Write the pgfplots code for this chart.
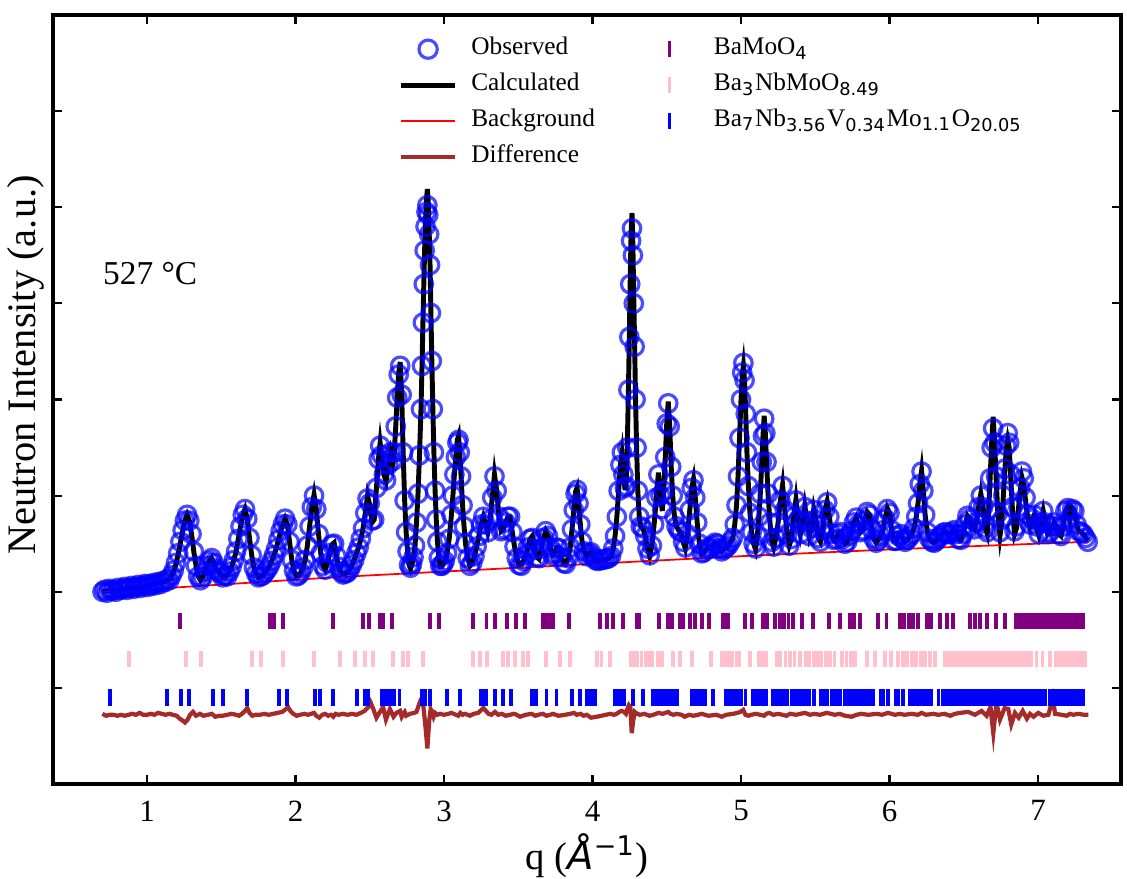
\documentclass[border=0pt]{standalone}
\usepackage{fontspec}
\setmainfont{Liberation Serif}
\newfontfamily\dv{DejaVu Sans}
\usepackage{pgfplots}
\usepackage{pgfplotstable}
\pgfplotsset{compat=1.18}
\definecolor{obsblue}{RGB}{0,0,255}
\definecolor{diffbrown}{RGB}{165,42,42}
\definecolor{tickpurple}{RGB}{128,0,128}
\definecolor{tickpink}{RGB}{255,192,203}
\definecolor{tickblue}{RGB}{0,0,255}

% observed and calculated profile
\pgfplotstableread{
q obs calc
0.700 0.00 0.00
0.715 0.02 0.005
0.730 -0.01 0.01
0.745 0.03 0.01
0.760 0.01 0.015
0.775 0.02 0.015
0.790 0.00 0.02
0.805 0.04 0.02
0.820 0.02 0.025
0.835 0.03 0.03
0.850 0.05 0.03
0.865 0.02 0.035
0.880 0.04 0.035
0.895 0.06 0.04
0.910 0.03 0.04
0.925 0.05 0.045
0.940 0.07 0.05
0.955 0.04 0.05
0.970 0.06 0.055
0.985 0.08 0.06
1.000 0.05 0.06
1.015 0.08 0.07
1.030 0.06 0.075
1.045 0.09 0.08
1.060 0.07 0.085
1.075 0.10 0.09
1.090 0.08 0.095
1.105 0.11 0.10
1.120 0.10 0.11
1.135 0.13 0.12
1.150 0.12 0.13
1.165 0.17 0.16
1.180 0.22 0.21
1.195 0.30 0.29
1.210 0.40 0.39
1.225 0.52 0.51
1.240 0.64 0.63
1.255 0.74 0.74
1.270 0.80 0.80
1.285 0.74 0.74
1.300 0.60 0.60
1.315 0.42 0.42
1.330 0.27 0.27
1.345 0.16 0.16
1.360 0.12 0.12
1.375 0.15 0.15
1.390 0.21 0.21
1.405 0.27 0.27
1.420 0.32 0.32
1.435 0.35 0.35
1.450 0.30 0.30
1.465 0.24 0.24
1.480 0.21 0.21
1.495 0.19 0.19
1.510 0.15 0.15
1.525 0.17 0.16
1.540 0.16 0.17
1.555 0.21 0.21
1.570 0.26 0.26
1.585 0.33 0.33
1.600 0.42 0.42
1.615 0.55 0.55
1.630 0.68 0.68
1.645 0.80 0.80
1.660 0.86 0.86
1.675 0.76 0.76
1.690 0.56 0.56
1.705 0.38 0.38
1.720 0.25 0.25
1.735 0.19 0.19
1.750 0.15 0.15
1.765 0.16 0.16
1.780 0.17 0.17
1.795 0.20 0.20
1.810 0.23 0.23
1.825 0.27 0.27
1.840 0.32 0.32
1.855 0.38 0.38
1.870 0.45 0.45
1.885 0.54 0.54
1.900 0.63 0.63
1.915 0.70 0.70
1.930 0.76 0.76
1.945 0.70 0.70
1.960 0.52 0.52
1.975 0.33 0.33
1.990 0.22 0.22
2.005 0.16 0.16
2.020 0.17 0.17
2.035 0.20 0.20
2.050 0.25 0.25
2.065 0.33 0.33
2.080 0.48 0.48
2.095 0.68 0.68
2.110 0.88 0.88
2.125 1.00 1.01
2.140 0.86 0.86
2.155 0.60 0.60
2.170 0.40 0.40
2.185 0.27 0.27
2.200 0.23 0.23
2.215 0.30 0.30
2.230 0.40 0.40
2.245 0.49 0.49
2.260 0.50 0.51
2.275 0.37 0.37
2.290 0.26 0.26
2.305 0.21 0.21
2.320 0.18 0.18
2.335 0.19 0.19
2.350 0.20 0.20
2.365 0.23 0.23
2.380 0.28 0.28
2.395 0.33 0.33
2.410 0.40 0.40
2.425 0.46 0.46
2.440 0.55 0.55
2.455 0.66 0.66
2.470 0.82 0.82
2.485 0.97 1.00
2.500 0.92 0.90
2.515 0.74 0.72
2.530 0.75 0.75
2.545 1.08 1.08
2.560 1.38 1.40
2.570 1.52 1.55
2.580 1.42 1.42
2.595 1.22 1.22
2.610 1.16 1.15
2.625 1.32 1.32
2.640 1.45 1.45
2.655 1.36 1.34
2.665 1.45 1.45
2.675 1.72 1.72
2.685 2.02 2.02
2.695 2.26 2.28
2.705 2.35 2.39
2.715 2.05 2.05
2.725 1.45 1.45
2.735 0.95 0.95
2.745 0.62 0.62
2.755 0.42 0.42
2.765 0.28 0.28
2.775 0.25 0.24
2.785 0.29 0.29
2.795 0.36 0.36
2.805 0.48 0.48
2.815 0.72 0.72
2.825 1.02 1.02
2.835 1.42 1.42
2.845 1.90 1.90
2.852 2.35 2.35
2.858 2.80 2.80
2.864 3.20 3.20
2.870 3.55 3.58
2.876 3.80 3.88
2.882 3.95 4.08
2.888 4.02 4.19
2.894 3.92 4.05
2.900 3.72 3.75
2.906 3.40 3.40
2.912 2.90 2.90
2.918 2.40 2.40
2.925 1.90 1.90
2.932 1.45 1.45
2.940 1.05 1.05
2.948 0.75 0.75
2.956 0.52 0.52
2.965 0.35 0.35
2.975 0.27 0.26
2.985 0.27 0.26
2.995 0.29 0.29
3.005 0.32 0.32
3.020 0.40 0.40
3.035 0.55 0.55
3.050 0.80 0.80
3.060 1.00 1.00
3.070 1.22 1.22
3.080 1.40 1.42
3.090 1.55 1.58
3.098 1.58 1.62
3.106 1.45 1.45
3.115 1.20 1.20
3.125 0.90 0.90
3.135 0.68 0.68
3.145 0.50 0.50
3.160 0.35 0.35
3.175 0.27 0.27
3.190 0.30 0.30
3.205 0.37 0.37
3.220 0.47 0.47
3.235 0.58 0.58
3.250 0.70 0.70
3.265 0.78 0.78
3.280 0.70 0.70
3.295 0.62 0.62
3.310 0.75 0.75
3.325 0.98 0.98
3.340 1.20 1.22
3.355 1.05 1.05
3.370 0.78 0.78
3.385 0.63 0.63
3.400 0.65 0.65
3.415 0.72 0.72
3.430 0.78 0.78
3.445 0.78 0.78
3.460 0.62 0.62
3.475 0.47 0.47
3.490 0.35 0.35
3.505 0.28 0.28
3.520 0.27 0.27
3.535 0.32 0.32
3.550 0.38 0.38
3.565 0.46 0.46
3.580 0.55 0.55
3.595 0.56 0.58
3.610 0.44 0.44
3.625 0.36 0.36
3.640 0.35 0.34
3.655 0.45 0.45
3.670 0.56 0.56
3.685 0.63 0.63
3.700 0.58 0.58
3.715 0.46 0.46
3.730 0.38 0.38
3.745 0.40 0.40
3.760 0.46 0.46
3.775 0.45 0.46
3.790 0.36 0.36
3.805 0.30 0.30
3.820 0.29 0.29
3.835 0.35 0.35
3.850 0.46 0.46
3.862 0.65 0.65
3.874 0.85 0.85
3.886 1.02 1.04
3.896 1.06 1.08
3.906 0.92 0.92
3.918 0.70 0.70
3.930 0.52 0.52
3.945 0.42 0.42
3.960 0.37 0.37
3.975 0.40 0.40
3.990 0.41 0.41
4.005 0.36 0.36
4.020 0.33 0.33
4.035 0.32 0.32
4.050 0.33 0.33
4.065 0.33 0.33
4.080 0.34 0.34
4.095 0.34 0.34
4.110 0.35 0.35
4.125 0.37 0.37
4.140 0.45 0.45
4.152 0.58 0.58
4.164 0.78 0.78
4.176 1.05 1.05
4.188 1.32 1.32
4.198 1.45 1.43
4.208 1.22 1.22
4.218 1.08 1.08
4.226 1.10 1.08
4.234 1.50 1.50
4.242 2.10 2.10
4.248 2.65 2.65
4.254 3.20 3.25
4.260 3.65 3.75
4.266 3.78 3.94
4.272 3.50 3.60
4.278 3.00 3.05
4.284 2.55 2.55
4.290 2.00 2.00
4.297 1.50 1.50
4.305 1.05 1.05
4.315 0.78 0.78
4.325 0.68 0.68
4.340 0.66 0.66
4.355 0.58 0.58
4.370 0.45 0.45
4.385 0.38 0.37
4.400 0.48 0.48
4.415 0.70 0.70
4.430 0.98 0.98
4.444 1.22 1.24
4.458 1.00 1.00
4.470 0.86 0.84
4.480 1.05 1.05
4.490 1.40 1.40
4.500 1.75 1.75
4.510 1.96 1.98
4.520 1.72 1.72
4.530 1.30 1.30
4.540 1.00 1.00
4.552 0.78 0.78
4.566 0.68 0.68
4.580 0.64 0.64
4.595 0.62 0.62
4.610 0.52 0.52
4.625 0.46 0.45
4.640 0.60 0.60
4.655 0.85 0.85
4.668 1.08 1.08
4.680 1.16 1.17
4.692 0.98 0.98
4.705 0.72 0.72
4.720 0.50 0.50
4.735 0.40 0.39
4.750 0.41 0.41
4.765 0.44 0.44
4.780 0.46 0.46
4.795 0.45 0.45
4.810 0.48 0.48
4.825 0.51 0.51
4.840 0.50 0.50
4.855 0.45 0.45
4.870 0.42 0.42
4.885 0.44 0.44
4.900 0.46 0.46
4.915 0.48 0.48
4.930 0.52 0.52
4.945 0.56 0.56
4.958 0.70 0.70
4.970 0.90 0.90
4.980 1.20 1.20
4.990 1.60 1.60
5.000 2.00 2.00
5.008 2.28 2.25
5.016 2.38 2.35
5.024 2.20 2.20
5.032 1.85 1.85
5.040 1.45 1.45
5.050 1.10 1.10
5.060 0.82 0.82
5.072 0.62 0.62
5.085 0.50 0.50
5.098 0.45 0.44
5.110 0.58 0.58
5.120 0.78 0.78
5.130 1.02 1.02
5.140 1.35 1.35
5.148 1.62 1.62
5.156 1.80 1.83
5.164 1.65 1.65
5.172 1.35 1.35
5.182 1.02 1.02
5.195 0.72 0.72
5.208 0.52 0.52
5.220 0.47 0.46
5.235 0.56 0.56
5.250 0.72 0.72
5.265 0.95 0.95
5.280 1.10 1.11
5.295 0.85 0.85
5.310 0.60 0.60
5.325 0.48 0.48
5.340 0.55 0.55
5.355 0.78 0.78
5.370 0.95 0.96
5.385 0.75 0.75
5.400 0.60 0.60
5.415 0.72 0.72
5.430 0.88 0.89
5.445 0.74 0.74
5.460 0.58 0.58
5.475 0.66 0.66
5.490 0.85 0.86
5.505 0.75 0.75
5.520 0.56 0.56
5.535 0.52 0.52
5.550 0.64 0.64
5.565 0.85 0.85
5.580 0.93 0.94
5.595 0.78 0.78
5.610 0.60 0.60
5.625 0.54 0.54
5.640 0.55 0.55
5.655 0.60 0.60
5.670 0.62 0.62
5.685 0.55 0.55
5.700 0.50 0.50
5.715 0.52 0.52
5.730 0.58 0.58
5.745 0.63 0.63
5.760 0.72 0.72
5.775 0.77 0.77
5.790 0.70 0.70
5.805 0.62 0.62
5.820 0.64 0.64
5.835 0.74 0.74
5.850 0.83 0.83
5.865 0.80 0.80
5.880 0.65 0.65
5.895 0.55 0.55
5.910 0.51 0.51
5.925 0.54 0.54
5.940 0.58 0.58
5.955 0.64 0.64
5.970 0.76 0.76
5.985 0.86 0.87
6.000 0.82 0.82
6.015 0.64 0.64
6.030 0.53 0.53
6.045 0.53 0.53
6.060 0.58 0.58
6.075 0.60 0.60
6.090 0.55 0.55
6.105 0.52 0.52
6.120 0.54 0.54
6.135 0.57 0.57
6.150 0.60 0.60
6.165 0.66 0.66
6.180 0.78 0.78
6.192 0.92 0.92
6.204 1.12 1.12
6.216 1.25 1.26
6.228 1.05 1.05
6.240 0.80 0.80
6.255 0.62 0.62
6.270 0.55 0.55
6.285 0.52 0.52
6.300 0.51 0.51
6.315 0.53 0.53
6.330 0.56 0.56
6.345 0.58 0.58
6.360 0.61 0.61
6.375 0.62 0.62
6.390 0.60 0.60
6.405 0.60 0.60
6.420 0.62 0.62
6.435 0.64 0.64
6.450 0.60 0.60
6.465 0.55 0.55
6.480 0.54 0.54
6.495 0.60 0.60
6.510 0.70 0.70
6.525 0.79 0.79
6.540 0.76 0.76
6.555 0.68 0.68
6.570 0.65 0.65
6.585 0.72 0.72
6.600 0.88 0.88
6.615 1.00 1.02
6.630 0.88 0.88
6.645 0.66 0.66
6.658 0.62 0.60
6.668 0.85 0.85
6.678 1.18 1.20
6.688 1.50 1.55
6.698 1.70 1.82
6.708 1.55 1.55
6.718 1.20 1.18
6.730 0.82 0.80
6.744 0.62 0.58
6.756 0.75 0.72
6.766 1.00 0.98
6.776 1.28 1.25
6.786 1.52 1.48
6.796 1.65 1.58
6.806 1.55 1.50
6.816 1.22 1.20
6.828 0.88 0.85
6.842 0.63 0.60
6.855 0.68 0.66
6.868 0.88 0.86
6.880 1.08 1.04
6.892 1.25 1.19
6.904 1.18 1.12
6.916 0.98 0.95
6.930 0.80 0.78
6.946 0.70 0.68
6.960 0.76 0.74
6.975 0.80 0.80
6.990 0.68 0.66
7.005 0.60 0.59
7.020 0.72 0.72
7.035 0.84 0.84
7.050 0.72 0.72
7.065 0.60 0.60
7.080 0.62 0.62
7.095 0.68 0.68
7.110 0.72 0.72
7.125 0.68 0.68
7.140 0.60 0.60
7.155 0.58 0.58
7.170 0.68 0.68
7.185 0.84 0.84
7.200 0.87 0.88
7.215 0.76 0.75
7.230 0.86 0.87
7.245 0.84 0.84
7.260 0.70 0.70
7.275 0.63 0.63
7.290 0.62 0.62
7.305 0.60 0.60
7.320 0.56 0.56
7.335 0.52 0.53
}\profile

% difference curve
\pgfplotstableread{
q diff
0.700 -1.27
0.725 -1.29
0.750 -1.28
0.775 -1.28
0.800 -1.29
0.825 -1.28
0.850 -1.29
0.875 -1.28
0.900 -1.27
0.925 -1.28
0.950 -1.26
0.975 -1.28
1.000 -1.28
1.025 -1.27
1.050 -1.28
1.075 -1.26
1.100 -1.27
1.125 -1.28
1.150 -1.27
1.175 -1.28
1.200 -1.29
1.220 -1.32
1.240 -1.34
1.256 -1.36
1.274 -1.33
1.290 -1.28
1.310 -1.25
1.330 -1.29
1.357 -1.27
1.380 -1.29
1.410 -1.28
1.436 -1.27
1.460 -1.30
1.490 -1.29
1.510 -1.29
1.540 -1.28
1.570 -1.27
1.600 -1.28
1.620 -1.29
1.640 -1.27
1.660 -1.24
1.675 -1.21
1.690 -1.26
1.710 -1.29
1.730 -1.28
1.760 -1.28
1.790 -1.27
1.820 -1.28
1.850 -1.27
1.880 -1.26
1.910 -1.25
1.936 -1.22
1.950 -1.20
1.965 -1.24
1.985 -1.27
2.008 -1.29
2.030 -1.28
2.060 -1.27
2.085 -1.28
2.105 -1.27
2.125 -1.26
2.140 -1.29
2.160 -1.31
2.180 -1.28
2.199 -1.27
2.220 -1.29
2.240 -1.28
2.255 -1.30
2.270 -1.27
2.290 -1.28
2.320 -1.27
2.350 -1.28
2.380 -1.27
2.410 -1.28
2.440 -1.26
2.465 -1.24
2.490 -1.20
2.505 -1.15
2.524 -1.22
2.545 -1.31
2.569 -1.25
2.590 -1.20
2.609 -1.33
2.636 -1.22
2.660 -1.30
2.680 -1.26
2.704 -1.24
2.715 -1.30
2.725 -1.27
2.735 -1.25
2.745 -1.29
2.771 -1.27
2.800 -1.26
2.815 -1.25
2.830 -1.18
2.845 -1.12
2.855 -1.10
2.865 -1.25
2.875 -1.40
2.888 -1.63
2.900 -1.35
2.910 -1.22
2.920 -1.25
2.930 -1.30
2.940 -1.26
2.955 -1.28
2.973 -1.27
3.000 -1.28
3.030 -1.27
3.050 -1.26
3.065 -1.27
3.080 -1.28
3.096 -1.29
3.110 -1.26
3.125 -1.28
3.140 -1.27
3.160 -1.28
3.175 -1.29
3.200 -1.27
3.230 -1.26
3.265 -1.21
3.300 -1.27
3.320 -1.28
3.343 -1.25
3.365 -1.28
3.389 -1.27
3.415 -1.29
3.444 -1.28
3.470 -1.27
3.490 -1.28
3.512 -1.30
3.550 -1.28
3.590 -1.27
3.615 -1.29
3.635 -1.28
3.665 -1.27
3.690 -1.29
3.715 -1.28
3.734 -1.27
3.770 -1.29
3.815 -1.28
3.850 -1.27
3.875 -1.26
3.894 -1.28
3.920 -1.27
3.940 -1.29
3.961 -1.28
3.990 -1.31
4.030 -1.30
4.060 -1.29
4.090 -1.28
4.118 -1.27
4.145 -1.28
4.163 -1.27
4.180 -1.25
4.196 -1.24
4.212 -1.25
4.225 -1.27
4.235 -1.22
4.245 -1.18
4.255 -1.20
4.264 -1.47
4.275 -1.33
4.285 -1.25
4.300 -1.27
4.320 -1.28
4.350 -1.27
4.383 -1.29
4.410 -1.28
4.444 -1.26
4.472 -1.27
4.490 -1.26
4.510 -1.25
4.525 -1.27
4.545 -1.28
4.566 -1.27
4.600 -1.28
4.620 -1.30
4.650 -1.28
4.679 -1.29
4.710 -1.28
4.735 -1.27
4.780 -1.29
4.835 -1.28
4.870 -1.30
4.900 -1.28
4.948 -1.27
4.975 -1.26
4.995 -1.25
5.015 -1.23
5.030 -1.28
5.050 -1.29
5.070 -1.28
5.098 -1.27
5.130 -1.28
5.155 -1.29
5.170 -1.27
5.190 -1.26
5.218 -1.28
5.250 -1.27
5.280 -1.28
5.305 -1.29
5.330 -1.27
5.370 -1.28
5.400 -1.27
5.430 -1.26
5.465 -1.28
5.494 -1.27
5.532 -1.28
5.577 -1.26
5.633 -1.28
5.665 -1.27
5.700 -1.29
5.745 -1.30
5.778 -1.28
5.810 -1.27
5.857 -1.28
5.913 -1.27
5.950 -1.28
5.990 -1.26
6.037 -1.28
6.070 -1.27
6.100 -1.28
6.150 -1.27
6.190 -1.28
6.216 -1.26
6.245 -1.28
6.295 -1.27
6.330 -1.28
6.370 -1.27
6.410 -1.29
6.440 -1.27
6.475 -1.26
6.530 -1.25
6.575 -1.28
6.620 -1.24
6.654 -1.29
6.680 -1.20
6.699 -1.47
6.720 -1.15
6.744 -1.33
6.775 -1.21
6.800 -1.22
6.820 -1.38
6.845 -1.26
6.870 -1.31
6.897 -1.24
6.925 -1.32
6.946 -1.27
6.970 -1.30
7.002 -1.26
7.036 -1.29
7.070 -1.28
7.100 -1.11
7.115 -1.27
7.160 -1.28
7.193 -1.29
7.215 -1.27
7.238 -1.28
7.272 -1.27
7.310 -1.28
7.340 -1.28
}\difftab

\begin{document}
\begin{tikzpicture}
\path[use as bounding box] (-0.53,-0.94) rectangle (10.74,7.84);
\begin{axis}[
  scale only axis, width=10.68cm, height=7.69cm,
  xmin=0.367, xmax=7.559, ymin=-2, ymax=6,
  axis line style={line width=1.3pt},
  xtick={1,2,3,4,5,6,7}, ytick={-1,0,1,2,3,4,5}, yticklabels={},
  tick align=inside, major tick length=2.6pt,
  every tick/.style={black, line width=0.6pt},
  /pgf/number format/assume math mode=true,
  tick label style={font=\fontsize{8.8}{10}\selectfont},
  xticklabel style={inner sep=0pt, yshift=-0.16cm},
  xlabel={q ({\dv\itshape Å}\textsuperscript{\dv −1})},
  xlabel style={at={(axis description cs:0.5,0)}, anchor=north, inner sep=0pt, yshift=-0.49cm, font=\fontsize{11}{13}\selectfont},
  ylabel={Neutron Intensity (a.u.)},
  ylabel style={at={(axis description cs:-0.008,0.545)}, anchor=south, inner sep=0pt, font=\fontsize{11.5}{13}\selectfont},
  legend columns=2,
  legend cell align=left,
  legend style={draw=none, fill=none, inner sep=0pt, anchor=north west,
    at={(axis description cs:0.323,0.977)},
    font=\fontsize{7.2}{8.6}\selectfont,
    nodes={inner sep=0.5pt, text height=5.6pt, text depth=2.4pt},
    row sep=1.2pt,
    /tikz/column 1/.append style={column sep=0.12cm},
    /tikz/column 2/.append style={column sep=0.45cm}},
]
% observed
\addplot[only marks, mark=o, mark size=2.5pt, mark options={draw=obsblue, draw opacity=0.7, line width=0.9pt}, forget plot] table[x=q,y=obs]{\profile};
% calculated
\addplot[black, line width=1.4pt, forget plot] table[x=q,y=calc]{\profile};
% background
\addplot[red, line width=0.5pt, forget plot] coordinates {(0.70,0.00) (1.00,0.025) (1.50,0.075) (2.00,0.125) (2.37,0.16) (3.00,0.21) (4.00,0.29) (5.00,0.37) (6.00,0.44) (7.00,0.50) (7.34,0.52)};
% difference
\addplot[diffbrown, line width=1.2pt, forget plot] table[x=q,y=diff]{\difftab};
% reflection ticks BaMoO4
\addplot[only marks, mark=|, mark size=2.3pt, tickpurple, line width=1.1pt, forget plot] coordinates {
(1.224,-0.30) (1.828,-0.30) (1.855,-0.30) (1.918,-0.30) (2.255,-0.30) (2.457,-0.30) (2.495,-0.30) (2.569,-0.30) (2.59,-0.30) (2.648,-0.30) (2.906,-0.30) (2.968,-0.30) (3.193,-0.30) (3.286,-0.30) (3.343,-0.30) (3.422,-0.30) (3.485,-0.30) (3.545,-0.30) (3.668,-0.30) (3.685,-0.30) (3.70,-0.30) (3.72,-0.30) (3.736,-0.30) (3.842,-0.30) (4.05,-0.30) (4.096,-0.30) (4.14,-0.30) (4.203,-0.30) (4.30,-0.30) (4.315,-0.30) (4.45,-0.30) (4.51,-0.30) (4.533,-0.30) (4.589,-0.30) (4.612,-0.30) (4.657,-0.30) (4.69,-0.30) (4.735,-0.30) (4.784,-0.30) (4.88,-0.30) (4.895,-0.30) (4.914,-0.30) (5.027,-0.30) (5.072,-0.30) (5.15,-0.30) (5.173,-0.30) (5.229,-0.30) (5.26,-0.30) (5.29,-0.30) (5.32,-0.30) (5.352,-0.30) (5.408,-0.30) (5.487,-0.30) (5.59,-0.30) (5.667,-0.30) (5.734,-0.30) (5.76,-0.30) (5.80,-0.30) (5.925,-0.30) (5.98,-0.30) (6.07,-0.30) (6.10,-0.30) (6.13,-0.30) (6.16,-0.30) (6.19,-0.30) (6.25,-0.30) (6.28,-0.30) (6.34,-0.30) (6.385,-0.30) (6.43,-0.30) (6.542,-0.30) (6.577,-0.30) (6.61,-0.30) (6.654,-0.30) (6.72,-0.30) (6.778,-0.30) (6.85,-0.30) (6.87,-0.30) (6.89,-0.30) (6.91,-0.30) (6.93,-0.30) (6.95,-0.30) (6.97,-0.30) (6.99,-0.30) (7.01,-0.30) (7.03,-0.30) (7.05,-0.30) (7.07,-0.30) (7.09,-0.30) (7.11,-0.30) (7.13,-0.30) (7.15,-0.30) (7.17,-0.30) (7.19,-0.30) (7.21,-0.30) (7.23,-0.30) (7.25,-0.30) (7.27,-0.30) (7.29,-0.30) (7.305,-0.30)};
% reflection ticks Ba3NbMoO8.49
\addplot[only marks, mark=|, mark size=2.3pt, tickpink, line width=1.1pt, forget plot] coordinates {
(0.881,-0.70) (1.263,-0.70) (1.362,-0.70) (1.705,-0.70) (1.768,-0.70) (1.918,-0.70) (2.125,-0.70) (2.30,-0.70) (2.40,-0.70) (2.47,-0.70) (2.523,-0.70) (2.655,-0.70) (2.726,-0.70) (2.76,-0.70) (2.86,-0.70) (3.197,-0.70) (3.242,-0.70) (3.287,-0.70) (3.40,-0.70) (3.433,-0.70) (3.478,-0.70) (3.534,-0.70) (3.568,-0.70) (3.687,-0.70) (3.781,-0.70) (3.848,-0.70) (4.028,-0.70) (4.061,-0.70) (4.118,-0.70) (4.257,-0.70) (4.28,-0.70) (4.30,-0.70) (4.33,-0.70) (4.36,-0.70) (4.38,-0.70) (4.40,-0.70) (4.44,-0.70) (4.47,-0.70) (4.544,-0.70) (4.589,-0.70) (4.668,-0.70) (4.80,-0.70) (4.87,-0.70) (4.89,-0.70) (4.92,-0.70) (4.94,-0.70) (4.97,-0.70) (4.99,-0.70) (5.06,-0.70) (5.12,-0.70) (5.15,-0.70) (5.17,-0.70) (5.24,-0.70) (5.26,-0.70) (5.30,-0.70) (5.33,-0.70) (5.36,-0.70) (5.40,-0.70) (5.44,-0.70) (5.46,-0.70) (5.49,-0.70) (5.52,-0.70) (5.54,-0.70) (5.57,-0.70) (5.60,-0.70) (5.63,-0.70) (5.68,-0.70) (5.71,-0.70) (5.74,-0.70) (5.77,-0.70) (5.85,-0.70) (5.90,-0.70) (5.97,-0.70) (6.01,-0.70) (6.06,-0.70) (6.09,-0.70) (6.12,-0.70) (6.15,-0.70) (6.18,-0.70) (6.21,-0.70) (6.24,-0.70) (6.27,-0.70) (6.306,-0.70) (6.37,-0.70) (6.39,-0.70) (6.41,-0.70) (6.43,-0.70) (6.45,-0.70) (6.47,-0.70) (6.49,-0.70) (6.51,-0.70) (6.53,-0.70) (6.55,-0.70) (6.57,-0.70) (6.59,-0.70) (6.61,-0.70) (6.63,-0.70) (6.65,-0.70) (6.67,-0.70) (6.69,-0.70) (6.71,-0.70) (6.73,-0.70) (6.75,-0.70) (6.77,-0.70) (6.79,-0.70) (6.81,-0.70) (6.83,-0.70) (6.85,-0.70) (6.87,-0.70) (6.89,-0.70) (6.91,-0.70) (6.93,-0.70) (6.95,-0.70) (6.99,-0.70) (7.03,-0.70) (7.08,-0.70) (7.12,-0.70) (7.14,-0.70) (7.16,-0.70) (7.18,-0.70) (7.20,-0.70) (7.22,-0.70) (7.24,-0.70) (7.26,-0.70) (7.28,-0.70) (7.30,-0.70) (7.32,-0.70)};
% reflection ticks Ba7Nb...
\addplot[only marks, mark=|, mark size=2.3pt, tickblue, line width=1.1pt, forget plot] coordinates {
(0.751,-1.10) (1.133,-1.10) (1.229,-1.10) (1.285,-1.10) (1.447,-1.10) (1.509,-1.10) (1.671,-1.10) (1.887,-1.10) (1.945,-1.10) (2.131,-1.10) (2.165,-1.10) (2.255,-1.10) (2.412,-1.10) (2.468,-1.10) (2.49,-1.10) (2.58,-1.10) (2.603,-1.10) (2.625,-1.10) (2.645,-1.10) (2.665,-1.10) (2.70,-1.10) (2.85,-1.10) (2.87,-1.10) (2.905,-1.10) (3.018,-1.10) (3.108,-1.10) (3.25,-1.10) (3.265,-1.10) (3.28,-1.10) (3.343,-1.10) (3.40,-1.10) (3.451,-1.10) (3.59,-1.10) (3.605,-1.10) (3.62,-1.10) (3.69,-1.10) (3.758,-1.10) (3.86,-1.10) (3.916,-1.10) (3.96,-1.10) (3.975,-1.10) (3.99,-1.10) (4.005,-1.10) (4.017,-1.10) (4.15,-1.10) (4.165,-1.10) (4.18,-1.10) (4.195,-1.10) (4.21,-1.10) (4.275,-1.10) (4.342,-1.10) (4.41,-1.10) (4.425,-1.10) (4.45,-1.10) (4.47,-1.10) (4.49,-1.10) (4.51,-1.10) (4.53,-1.10) (4.55,-1.10) (4.57,-1.10) (4.668,-1.10) (4.685,-1.10) (4.70,-1.10) (4.715,-1.10) (4.73,-1.10) (4.76,-1.10) (4.81,-1.10) (4.90,-1.10) (4.92,-1.10) (4.94,-1.10) (4.96,-1.10) (4.98,-1.10) (5.00,-1.10) (5.03,-1.10) (5.083,-1.10) (5.10,-1.10) (5.13,-1.10) (5.15,-1.10) (5.17,-1.10) (5.217,-1.10) (5.24,-1.10) (5.26,-1.10) (5.28,-1.10) (5.31,-1.10) (5.34,-1.10) (5.36,-1.10) (5.38,-1.10) (5.40,-1.10) (5.42,-1.10) (5.44,-1.10) (5.46,-1.10) (5.49,-1.10) (5.54,-1.10) (5.56,-1.10) (5.58,-1.10) (5.61,-1.10) (5.63,-1.10) (5.65,-1.10) (5.67,-1.10) (5.70,-1.10) (5.72,-1.10) (5.74,-1.10) (5.76,-1.10) (5.78,-1.10) (5.80,-1.10) (5.82,-1.10) (5.84,-1.10) (5.87,-1.10) (5.89,-1.10) (5.94,-1.10) (5.96,-1.10) (5.99,-1.10) (6.04,-1.10) (6.06,-1.10) (6.09,-1.10) (6.14,-1.10) (6.16,-1.10) (6.18,-1.10) (6.20,-1.10) (6.22,-1.10) (6.24,-1.10) (6.26,-1.10) (6.28,-1.10) (6.33,-1.10) (6.36,-1.10) (6.38,-1.10) (6.40,-1.10) (6.42,-1.10) (6.44,-1.10) (6.46,-1.10) (6.48,-1.10) (6.50,-1.10) (6.52,-1.10) (6.54,-1.10) (6.56,-1.10) (6.58,-1.10) (6.60,-1.10) (6.62,-1.10) (6.64,-1.10) (6.66,-1.10) (6.68,-1.10) (6.70,-1.10) (6.72,-1.10) (6.745,-1.10) (6.77,-1.10) (6.79,-1.10) (6.81,-1.10) (6.83,-1.10) (6.85,-1.10) (6.87,-1.10) (6.89,-1.10) (6.91,-1.10) (6.93,-1.10) (6.95,-1.10) (6.97,-1.10) (6.99,-1.10) (7.01,-1.10) (7.03,-1.10) (7.05,-1.10) (7.08,-1.10) (7.10,-1.10) (7.12,-1.10) (7.14,-1.10) (7.16,-1.10) (7.18,-1.10) (7.20,-1.10) (7.22,-1.10) (7.24,-1.10) (7.26,-1.10) (7.28,-1.10) (7.305,-1.10)};
% legend
\addlegendimage{legend image code/.code={\path[draw=none,fill=none] (0cm,-1pt) rectangle (0.54cm,1pt); \draw[obsblue, draw opacity=0.7, line width=0.9pt] (0.27cm,0cm) circle (2.6pt);}}
\addlegendentry{Observed}
\addlegendimage{legend image code/.code={\draw[draw opacity=0] (-0.27cm,0cm) -- (0.42cm,0cm); \draw[tickpurple, line width=1.1pt] (0cm,-2.3pt) -- (0cm,2.3pt);}}
\addlegendentry{BaMoO\textsubscript{\dv 4}}
\addlegendimage{legend image code/.code={\draw[black, line width=1.4pt] (0cm,0cm) -- (0.54cm,0cm);}}
\addlegendentry{Calculated}
\addlegendimage{legend image code/.code={\draw[draw opacity=0] (-0.27cm,0cm) -- (0.42cm,0cm); \draw[tickpink, line width=1.1pt] (0cm,-2.3pt) -- (0cm,2.3pt);}}
\addlegendentry{Ba\textsubscript{\dv 3}NbMoO\textsubscript{\dv 8.49}}
\addlegendimage{legend image code/.code={\draw[red, line width=0.5pt] (0cm,0cm) -- (0.54cm,0cm);}}
\addlegendentry{Background}
\addlegendimage{legend image code/.code={\draw[draw opacity=0] (-0.27cm,0cm) -- (0.42cm,0cm); \draw[tickblue, line width=1.1pt] (0cm,-2.3pt) -- (0cm,2.3pt);}}
\addlegendentry{Ba\textsubscript{\dv 7}Nb\textsubscript{\dv 3.56}V\textsubscript{\dv 0.34}Mo\textsubscript{\dv 1.1}O\textsubscript{\dv 20.05}}
\addlegendimage{legend image code/.code={\draw[diffbrown, line width=1.2pt] (0cm,0cm) -- (0.54cm,0cm);}}
\addlegendentry{Difference}
\node[anchor=west, inner sep=0pt, font=\fontsize{9.5}{11}\selectfont] at (axis cs:0.70,3.31) {527 °C};
\end{axis}
\end{tikzpicture}
\end{document}
